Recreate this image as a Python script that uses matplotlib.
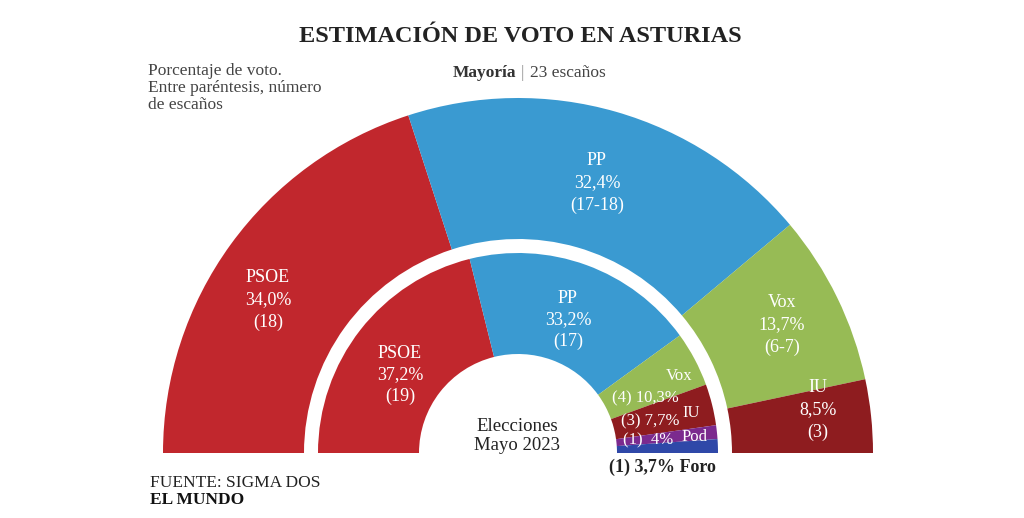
import matplotlib
matplotlib.use("Agg")
import matplotlib.pyplot as plt
from matplotlib.patches import Wedge

plt.rcParams['font.family'] = ['Liberation Serif', 'DejaVu Serif']

outer_parties = ["PSOE", "PP", "Vox", "IU"]
outer_seats_angle = [18, 17, 7, 3]
outer_pct = ["34,0%", "32,4%", "13,7%", "8,5%"]
outer_seats = ["(18)", "(17-18)", "(6-7)", "(3)"]
outer_colors = ["#c1272d", "#3a9ad1", "#97bb55", "#8e1c1f"]

inner_parties = ["PSOE", "PP", "Vox", "IU", "Pod", "Foro"]
inner_seats_angle = [19, 17, 4, 3, 1, 1]
inner_pct = ["37,2%", "33,2%", "10,3%", "7,7%", "4%", "3,7%"]
inner_seats = ["(19)", "(17)", "(4)", "(3)", "(1)", "(1)"]
inner_colors = ["#c1272d", "#3a9ad1", "#97bb55", "#8e1c1f", "#7b2a8e", "#2f48a8"]

fig = plt.figure(figsize=(10.24, 5.18), dpi=100)
ax = fig.add_axes([0, 0, 1, 1])
ax.set_xlim(0, 1024); ax.set_ylim(518, 0); ax.set_aspect('equal'); ax.axis('off')
cx, cy = 518, 453

def ring(seats, colors, r_out, width):
    total = sum(seats); a = 180.0
    for s, c in zip(seats, colors):
        span = 180.0 * s / total
        ax.add_patch(Wedge((cx, cy), r_out, -(a), -(a - span), width=width, facecolor=c, edgecolor='none'))
        a -= span

ring(outer_seats_angle, outer_colors, 355, 141)
ring(inner_seats_angle, inner_colors, 200, 101)

fs = 13
wk = dict(color='white', ha='center', va='center', fontsize=fs)
sk = dict(color='white', ha='left', va='center', fontsize=12)
for x, y, i in [(268, 300, 0), (597, 183, 1), (782, 325, 2), (818, 410, 3)]:
    ax.text(x, y, f"{outer_parties[i]}\n{outer_pct[i]}\n{outer_seats[i]}", linespacing=1.4, **wk)
ax.text(400, 375, f"PSOE\n{inner_pct[0]}\n{inner_seats[0]}", linespacing=1.3, **wk)
ax.text(568, 320, f"PP\n{inner_pct[1]}\n{inner_seats[1]}", linespacing=1.3, **wk)
ax.text(666, 376, "Vox", **sk)
ax.text(612, 398, "(4) 10,3%", **sk)
ax.text(682, 413, "IU", **sk)
ax.text(621, 421, "(3) 7,7%", **sk)
ax.text(682, 437, "Pod", **sk)
ax.text(623, 440, "(1)  4%", **sk)
ax.text(662, 467, "(1) 3,7% Foro", ha='center', va='center', fontsize=fs, color='#222', fontweight='bold')
ax.text(517, 436, "Elecciones\nMayo 2023", ha='center', va='center', fontsize=13.5, color='#222', linespacing=1.2)

ax.text(520, 37, "ESTIMACIÓN DE VOTO EN ASTURIAS", ha='center', va='center', fontsize=17.5, fontweight='bold', color='#222')
ax.text(148, 88, "Porcentaje de voto.\nEntre paréntesis, número\nde escaños", ha='left', va='center', fontsize=12.5, color='#444', linespacing=1.1)
ax.text(516, 73, "Mayoría", ha='right', va='center', fontsize=12.5, fontweight='bold', color='#333')
ax.text(522, 73, "|", ha='center', va='center', fontsize=12, color='#999')
ax.text(530, 73, "23 escaños", ha='left', va='center', fontsize=12.5, color='#444')
ax.text(150, 483, "FUENTE: SIGMA DOS", ha='left', va='center', fontsize=12.5, color='#222')
ax.text(150, 500, "EL MUNDO", ha='left', va='center', fontsize=12.5, fontweight='bold', color='#111')

fig.savefig("out.png", dpi=100, facecolor='white')
